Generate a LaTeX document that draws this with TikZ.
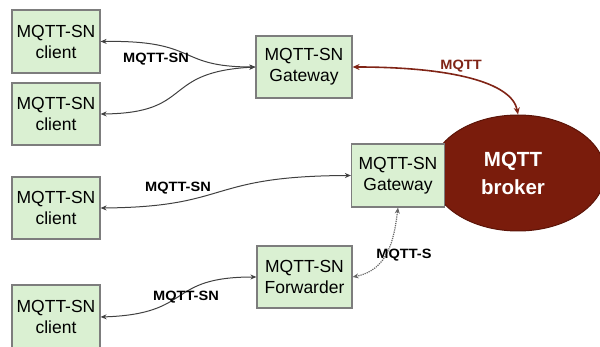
\documentclass[tikz,border=0pt]{standalone}
\usepackage{fontspec}
\setmainfont{Liberation Sans}
\usetikzlibrary{arrows.meta,shapes.geometric}
\definecolor{boxfill}{RGB}{218,240,210}
\definecolor{boxline}{RGB}{125,125,125}
\definecolor{brokerfill}{RGB}{122,28,12}
\definecolor{brokerline}{RGB}{92,20,8}
\definecolor{mqttred}{RGB}{128,36,22}
\tikzset{
  box/.style={draw=boxline, line width=1.2pt, fill=boxfill, align=center,
    inner sep=0pt, font=\fontsize{17.5}{21}\selectfont},
  lab/.style={font=\fontsize{13.5}{15}\selectfont\bfseries, xscale=1.08, inner sep=1pt},
  conn/.style={line width=1pt, draw=black!75, {Stealth[length=6pt,width=5pt]}-{Stealth[length=6pt,width=5pt]}},
  redconn/.style={line width=1.6pt, draw=mqttred, {Stealth[length=7pt,width=6pt]}-{Stealth[length=7pt,width=6pt]}},
  dotconn/.style={line width=1.2pt, draw=black!60, densely dotted, {Stealth[length=6pt,width=5pt]}-{Stealth[length=6pt,width=5pt]}}
}
\begin{document}
\begin{tikzpicture}[x=1pt,y=-1pt]
\useasboundingbox (0,0) rectangle (600,347);
\clip (0,0) rectangle (600,347);
% broker
\node[ellipse, draw=brokerline, line width=1pt, fill=brokerfill, minimum width=174pt, minimum height=116pt, inner sep=0pt,
  text=white, align=center, font=\fontsize{20.5}{28}\selectfont\bfseries] (broker) at (518,173) {\hspace*{-10pt}MQTT\\\hspace*{-10pt}broker};
% boxes
\node[box, minimum width=88pt, minimum height=63pt] (c1) at (56,41.5) {MQTT-SN\\client};
\node[box, minimum width=88pt, minimum height=62pt] (c2) at (56,114) {MQTT-SN\\client};
\node[box, minimum width=88pt, minimum height=62pt] (c3) at (56,208) {MQTT-SN\\client};
\node[box, minimum width=88pt, minimum height=64pt] (c4) at (56,317) {MQTT-SN\\client};
\node[box, minimum width=96pt, minimum height=62pt] (g1) at (304,67) {MQTT-SN\\Gateway};
\node[box, minimum width=93pt, minimum height=63pt] (g2) at (398,175.5) {MQTT-SN\\Gateway};
\node[box, minimum width=95pt, minimum height=62pt] (fw) at (304.5,277) {MQTT-SN\\Forwarder};
% connectors
\draw[conn] (c1.east) .. controls (200,40) and (175,67) .. (g1.west);
\draw[conn] (c2.east) .. controls (195,113) and (160,72) .. (g1.west);
\draw[conn] (c3.east) .. controls (232,207) and (205,176) .. (g2.west);
\draw[conn] (c4.east) .. controls (195,314) and (165,277) .. (fw.west);
\draw[dotconn] (fw.east) .. controls (388,270) and (394,240) .. (g2.south);
\draw[redconn] (g1.east) .. controls (450,67) and (512,82) .. (broker.north);
% labels
\node[lab] (l1) at (156,59) {MQTT-SN};
\node[lab] (l2) at (178,188) {MQTT-SN};
\node[lab] (l3) at (186,297) {MQTT-SN};
\node[lab] (l4) at (404,255) {MQTT-S};
\node[lab, text=mqttred] (l5) at (461,66) {MQTT};
\end{tikzpicture}
\end{document}
